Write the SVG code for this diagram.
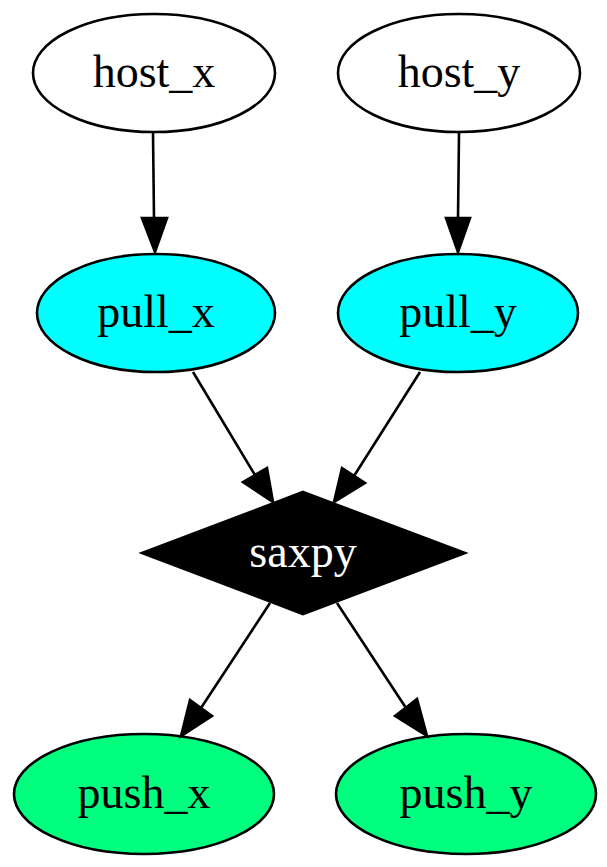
<svg xmlns="http://www.w3.org/2000/svg" width="607" height="867" viewBox="0 0 607 867">
<style>
.n{stroke:#000;stroke-width:2.6}
.t{font-family:"Liberation Serif","Times New Roman",serif;font-size:46px;text-anchor:middle;fill:#000}
.e line{stroke:#000;stroke-width:2.6}
.e polygon{fill:#000;stroke:#000;stroke-width:2.6;stroke-linejoin:miter}
</style>
<rect width="607" height="867" fill="#fff"/>
<g id="host_x"><ellipse class="n" cx="154" cy="73" rx="121" ry="59" fill="#fff"/><text class="t" x="154" y="87">host_x</text></g>
<g id="host_y"><ellipse class="n" cx="459" cy="73" rx="121" ry="59" fill="#fff"/><text class="t" x="459" y="87">host_y</text></g>
<g id="pull_x"><ellipse class="n" cx="156" cy="313" rx="119" ry="59" fill="#00ffff"/><text class="t" x="156" y="327">pull_x</text></g>
<g id="pull_y"><ellipse class="n" cx="458" cy="313" rx="120" ry="59" fill="#00ffff"/><text class="t" x="458" y="327">pull_y</text></g>
<g id="saxpy"><polygon class="n" points="303,492 465,553 303,614 142,553" fill="#000"/><text class="t" x="303" y="567" style="fill:#fff">saxpy</text></g>
<g id="push_x"><ellipse class="n" cx="144" cy="794" rx="130" ry="60" fill="#00ff7f"/><text class="t" x="144" y="808">push_x</text></g>
<g id="push_y"><ellipse class="n" cx="466" cy="794" rx="130" ry="60" fill="#00ff7f"/><text class="t" x="466" y="808">push_y</text></g>
<g id="edges" class="e">
<line x1="153" y1="133" x2="154" y2="218"/><polygon points="142,218 167,218 155,252"/>
<line x1="459" y1="133" x2="458" y2="218"/><polygon points="446,218 470,218 458,252"/>
<line x1="193" y1="372" x2="255" y2="475"/><polygon points="243,482 267,468 273,502"/>
<line x1="420" y1="372" x2="354" y2="476"/><polygon points="342,468 365,483 334,502"/>
<line x1="270" y1="603" x2="201" y2="708"/><polygon points="190,700 212,716 181,736"/>
<line x1="337" y1="603" x2="406" y2="708"/><polygon points="395,716 417,699 427,736"/>
</g>
</svg>
